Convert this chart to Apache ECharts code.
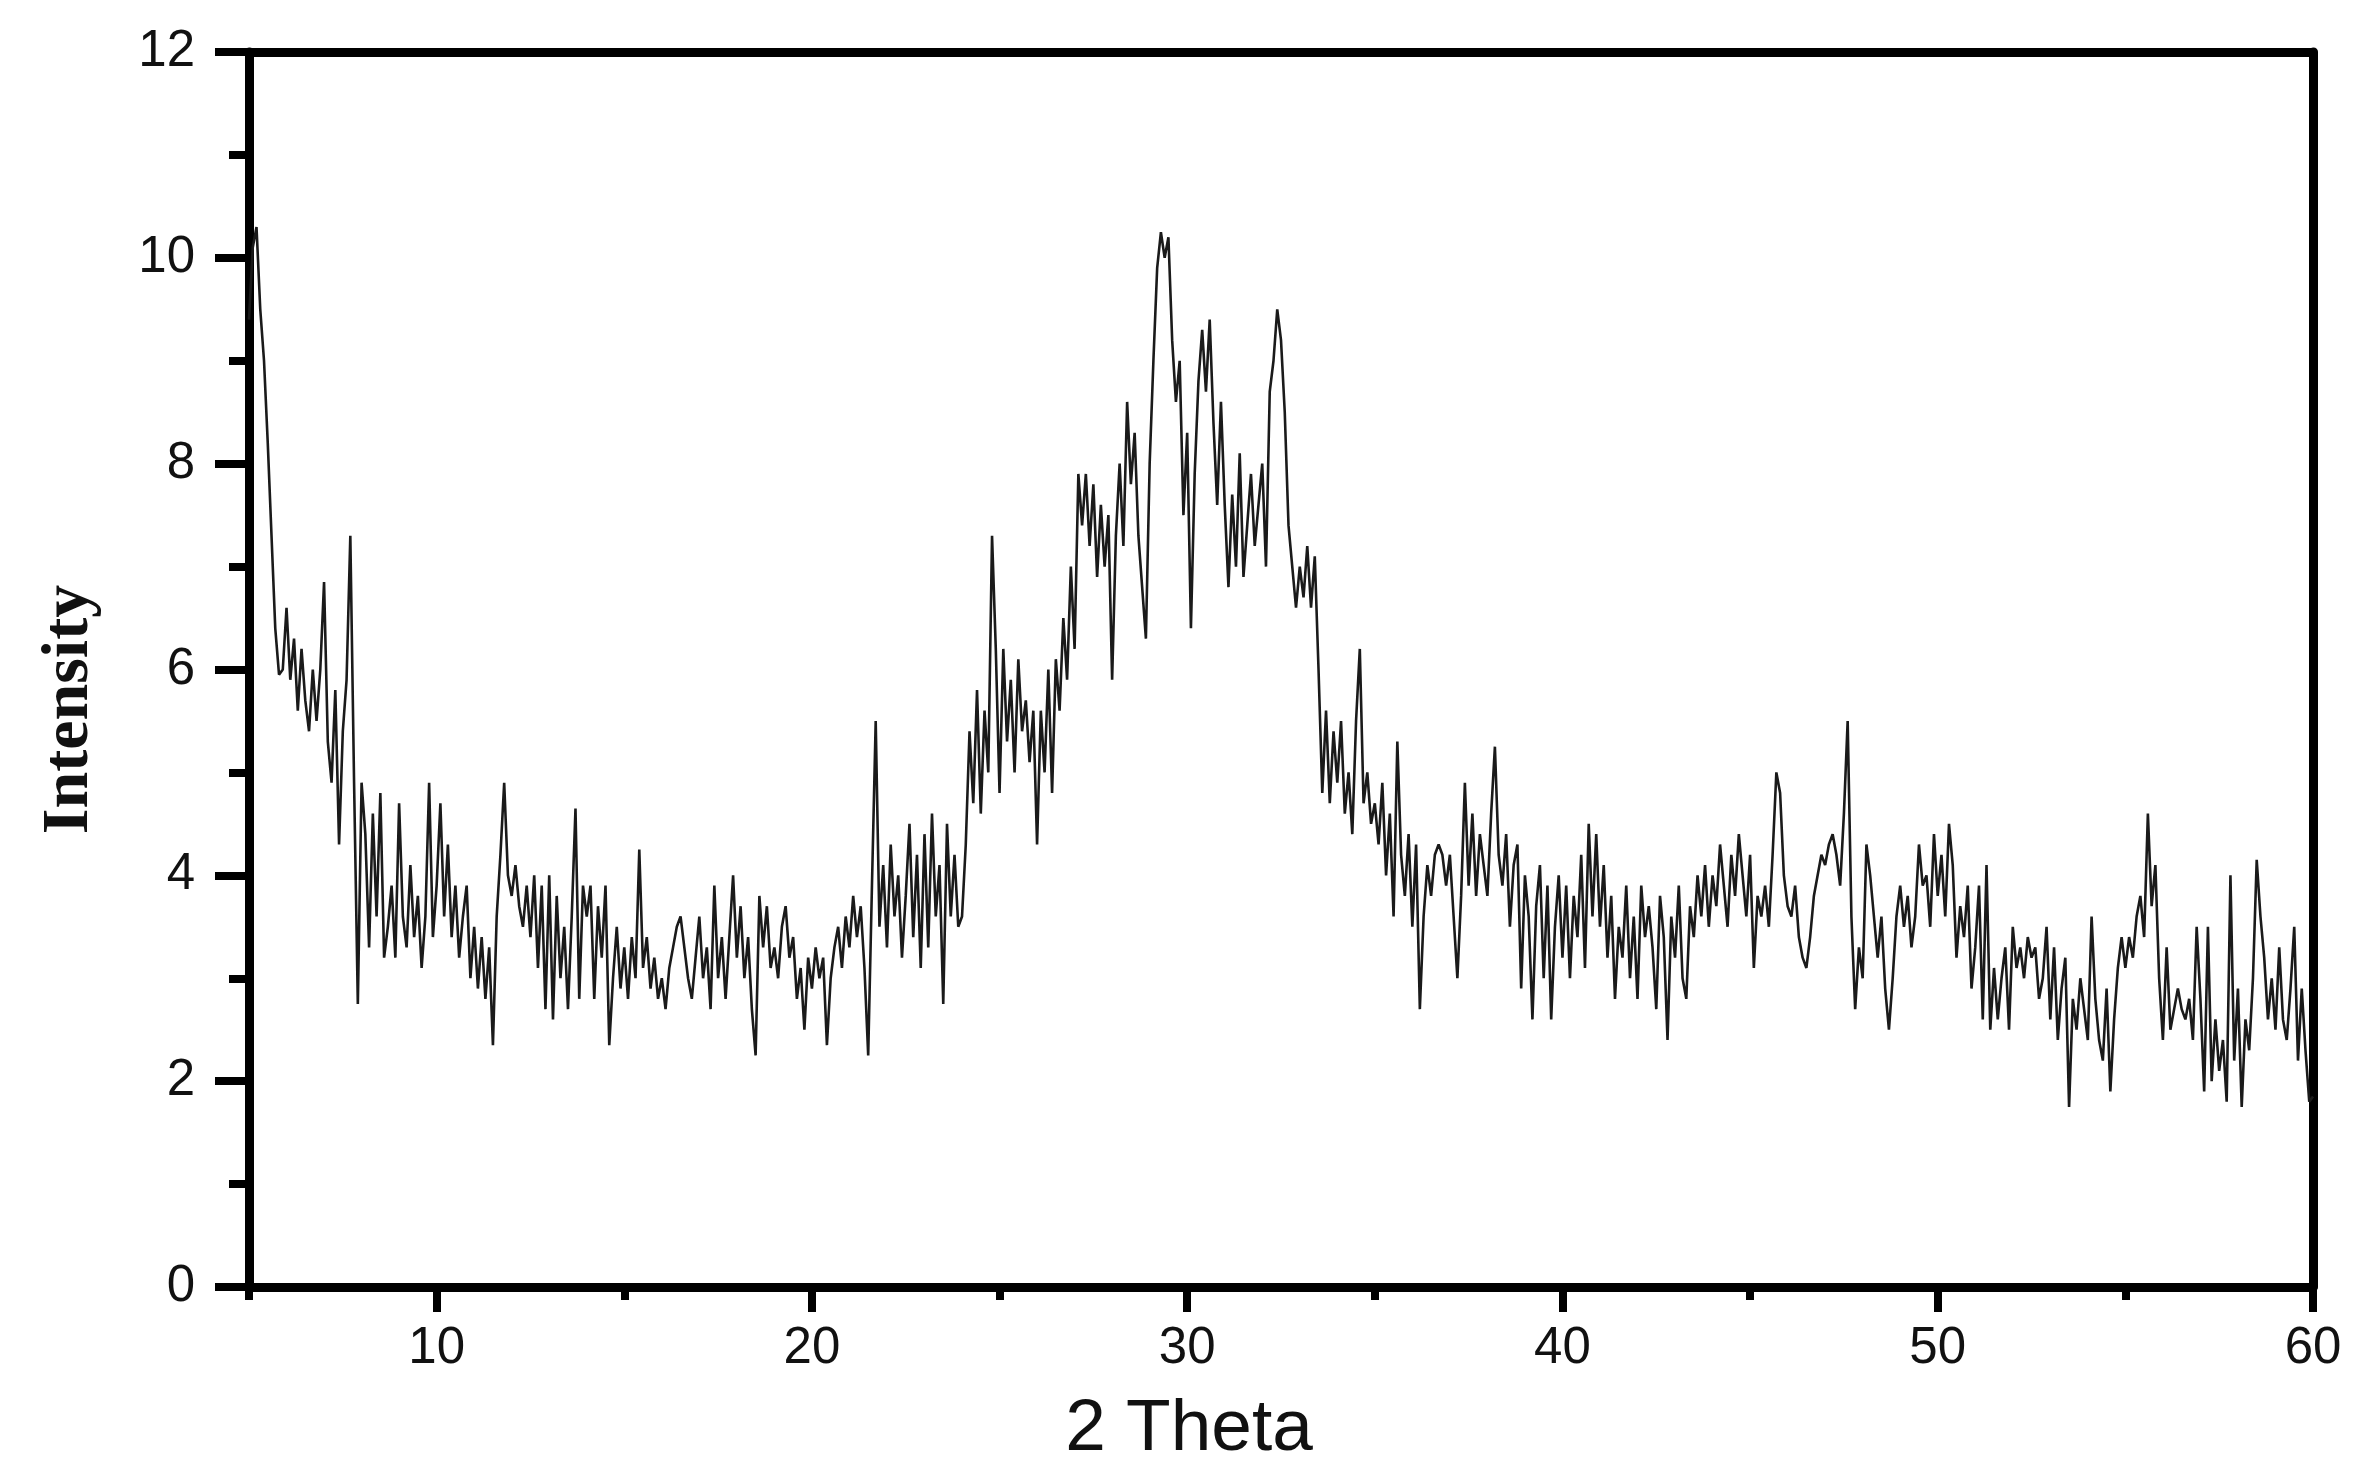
<!doctype html>
<html>
<head>
<meta charset="utf-8">
<title>XRD 2 Theta</title>
<script src="https://cdn.jsdelivr.net/npm/echarts@6.0.0/dist/echarts.min.js"></script>
<style>
  html, body { margin: 0; padding: 0; background: #fff; }
  #chart { width: 2370px; height: 1484px; }
</style>
</head>
<body>
<div id="chart"></div>
<script>
// scan grid: 5 to 60 degrees, step 0.1
var thetaStart = 5;
var thetaStep = 0.1;

// intensity, 10 points per degree
var lowAngle = [ // 5.0 - 19.9
  9.4, 10.1, 10.3, 9.5, 9.0, 8.2, 7.3, 6.4, 5.95, 6.0,
  6.6, 5.9, 6.3, 5.6, 6.2, 5.7, 5.4, 6.0, 5.5, 6.0,
  6.85, 5.3, 4.9, 5.8, 4.3, 5.4, 5.9, 7.3, 4.9, 2.75,
  4.9, 4.4, 3.3, 4.6, 3.6, 4.8, 3.2, 3.5, 3.9, 3.2,
  4.7, 3.6, 3.3, 4.1, 3.4, 3.8, 3.1, 3.6, 4.9, 3.4,
  3.9, 4.7, 3.6, 4.3, 3.4, 3.9, 3.2, 3.6, 3.9, 3.0,
  3.5, 2.9, 3.4, 2.8, 3.3, 2.35, 3.6, 4.2, 4.9, 4.0,
  3.8, 4.1, 3.7, 3.5, 3.9, 3.4, 4.0, 3.1, 3.9, 2.7,
  4.0, 2.6, 3.8, 3.0, 3.5, 2.7, 3.6, 4.65, 2.8, 3.9,
  3.6, 3.9, 2.8, 3.7, 3.2, 3.9, 2.35, 3.0, 3.5, 2.9,
  3.3, 2.8, 3.4, 3.0, 4.25, 3.1, 3.4, 2.9, 3.2, 2.8,
  3.0, 2.7, 3.1, 3.3, 3.5, 3.6, 3.3, 3.0, 2.8, 3.2,
  3.6, 3.0, 3.3, 2.7, 3.9, 3.0, 3.4, 2.8, 3.4, 4.0,
  3.2, 3.7, 3.0, 3.4, 2.7, 2.25, 3.8, 3.3, 3.7, 3.1,
  3.3, 3.0, 3.5, 3.7, 3.2, 3.4, 2.8, 3.1, 2.5, 3.2
];
var hump = [ // 20.0 - 35.9
  2.9, 3.3, 3.0, 3.2, 2.35, 3.0, 3.3, 3.5, 3.1, 3.6,
  3.3, 3.8, 3.4, 3.7, 3.1, 2.25, 3.9, 5.5, 3.5, 4.1,
  3.3, 4.3, 3.6, 4.0, 3.2, 3.8, 4.5, 3.4, 4.2, 3.1,
  4.4, 3.3, 4.6, 3.6, 4.1, 2.75, 4.5, 3.6, 4.2, 3.5,
  3.6, 4.3, 5.4, 4.7, 5.8, 4.6, 5.6, 5.0, 7.3, 6.2,
  4.8, 6.2, 5.3, 5.9, 5.0, 6.1, 5.4, 5.7, 5.1, 5.6,
  4.3, 5.6, 5.0, 6.0, 4.8, 6.1, 5.6, 6.5, 5.9, 7.0,
  6.2, 7.9, 7.4, 7.9, 7.2, 7.8, 6.9, 7.6, 7.0, 7.5,
  5.9, 7.3, 8.0, 7.2, 8.6, 7.8, 8.3, 7.3, 6.8, 6.3,
  8.0, 9.0, 9.9, 10.25, 10.0, 10.2, 9.2, 8.6, 9.0, 7.5,
  8.3, 6.4, 7.9, 8.8, 9.3, 8.7, 9.4, 8.4, 7.6, 8.6,
  7.6, 6.8, 7.7, 7.0, 8.1, 6.9, 7.4, 7.9, 7.2, 7.6,
  8.0, 7.0, 8.7, 9.0, 9.5, 9.2, 8.5, 7.4, 7.0, 6.6,
  7.0, 6.7, 7.2, 6.6, 7.1, 6.0, 4.8, 5.6, 4.7, 5.4,
  4.9, 5.5, 4.6, 5.0, 4.4, 5.5, 6.2, 4.7, 5.0, 4.5,
  4.7, 4.3, 4.9, 4.0, 4.6, 3.6, 5.3, 4.2, 3.8, 4.4
];
var highAngle = [ // 36.0 - 60.0
  3.5, 4.3, 2.7, 3.6, 4.1, 3.8, 4.2, 4.3, 4.2, 3.9,
  4.2, 3.6, 3.0, 3.8, 4.9, 3.9, 4.6, 3.8, 4.4, 4.1,
  3.8, 4.6, 5.25, 4.2, 3.9, 4.4, 3.5, 4.1, 4.3, 2.9,
  4.0, 3.6, 2.6, 3.7, 4.1, 3.0, 3.9, 2.6, 3.5, 4.0,
  3.2, 3.9, 3.0, 3.8, 3.4, 4.2, 3.1, 4.5, 3.6, 4.4,
  3.5, 4.1, 3.2, 3.8, 2.8, 3.5, 3.2, 3.9, 3.0, 3.6,
  2.8, 3.9, 3.4, 3.7, 3.3, 2.7, 3.8, 3.4, 2.4, 3.6,
  3.2, 3.9, 3.0, 2.8, 3.7, 3.4, 4.0, 3.6, 4.1, 3.5,
  4.0, 3.7, 4.3, 3.9, 3.5, 4.2, 3.8, 4.4, 4.0, 3.6,
  4.2, 3.1, 3.8, 3.6, 3.9, 3.5, 4.2, 5.0, 4.8, 4.0,
  3.7, 3.6, 3.9, 3.4, 3.2, 3.1, 3.4, 3.8, 4.0, 4.2,
  4.1, 4.3, 4.4, 4.2, 3.9, 4.6, 5.5, 3.6, 2.7, 3.3,
  3.0, 4.3, 4.0, 3.6, 3.2, 3.6, 2.9, 2.5, 3.0, 3.6,
  3.9, 3.5, 3.8, 3.3, 3.6, 4.3, 3.9, 4.0, 3.5, 4.4,
  3.8, 4.2, 3.6, 4.5, 4.1, 3.2, 3.7, 3.4, 3.9, 2.9,
  3.3, 3.9, 2.6, 4.1, 2.5, 3.1, 2.6, 3.0, 3.3, 2.5,
  3.5, 3.1, 3.3, 3.0, 3.4, 3.2, 3.3, 2.8, 3.0, 3.5,
  2.6, 3.3, 2.4, 2.9, 3.2, 1.75, 2.8, 2.5, 3.0, 2.7,
  2.4, 3.6, 2.8, 2.4, 2.2, 2.9, 1.9, 2.6, 3.1, 3.4,
  3.1, 3.4, 3.2, 3.6, 3.8, 3.4, 4.6, 3.7, 4.1, 3.0,
  2.4, 3.3, 2.5, 2.7, 2.9, 2.7, 2.6, 2.8, 2.4, 3.5,
  2.8, 1.9, 3.5, 2.0, 2.6, 2.1, 2.4, 1.8, 4.0, 2.2,
  2.9, 1.75, 2.6, 2.3, 3.0, 4.15, 3.6, 3.2, 2.6, 3.0,
  2.5, 3.3, 2.6, 2.4, 2.9, 3.5, 2.2, 2.9, 2.3, 1.8,
  1.85
];

// tick labels
var xMajorTicks = [10, 20, 30, 40, 50, 60];
var xMinorTicks = [5, 15, 25, 35, 45, 55];

var intensity = lowAngle.concat(hump, highAngle);
var points = intensity.map(function (v, i) {
  return [+(thetaStart + i * thetaStep).toFixed(1), v];
});

var frame = { show: true, onZero: false, lineStyle: { color: '#000', width: 9 } };
var labelFont = { fontFamily: 'Liberation Sans', fontSize: 51, color: '#111' };

var chart = echarts.init(document.getElementById('chart'));
chart.setOption({
  animation: false,
  backgroundColor: '#fff',
  grid: { left: 249, right: 57, top: 52, bottom: 197 },
  xAxis: [
    {
      type: 'value', min: 5, max: 60, position: 'bottom',
      axisLine: frame,
      axisTick: { show: true, customValues: xMajorTicks, length: 25, lineStyle: { color: '#000', width: 8 } },
      axisLabel: Object.assign({ customValues: xMajorTicks, margin: 36 }, labelFont),
      splitLine: { show: false },
      name: '2 Theta', nameLocation: 'middle', nameGap: 106,
      nameTextStyle: { fontFamily: 'Liberation Sans', fontSize: 73, color: '#111', padding: [0, 184, 0, 0] }
    },
    {
      // short ticks between labels
      type: 'value', min: 5, max: 60, position: 'bottom',
      axisLine: { show: false },
      axisTick: { show: true, customValues: xMinorTicks, length: 13, lineStyle: { color: '#000', width: 8 } },
      axisLabel: { show: false },
      splitLine: { show: false }
    },
    {
      type: 'value', min: 5, max: 60, position: 'top',
      axisLine: frame, axisTick: { show: false }, axisLabel: { show: false }, splitLine: { show: false }
    }
  ],
  yAxis: [
    {
      type: 'value', min: 0, max: 12, interval: 2, position: 'left',
      axisLine: frame,
      axisTick: { show: true, length: 34, lineStyle: { color: '#000', width: 8 } },
      minorTick: { show: true, splitNumber: 2, length: 20, lineStyle: { color: '#000', width: 8 } },
      axisLabel: Object.assign({ margin: 54 }, labelFont),
      splitLine: { show: false },
      name: 'Intensity', nameLocation: 'middle', nameGap: 146,
      nameTextStyle: { fontFamily: 'Liberation Serif', fontWeight: 'bold', fontSize: 66, color: '#111', padding: [0, 80, 0, 0] }
    },
    {
      type: 'value', min: 0, max: 12, position: 'right',
      axisLine: frame, axisTick: { show: false }, axisLabel: { show: false }, splitLine: { show: false }
    }
  ],
  series: [
    {
      type: 'line',
      xAxisIndex: 0,
      yAxisIndex: 0,
      data: points,
      showSymbol: false,
      lineStyle: { color: '#1a1a1a', width: 2.6 }
    }
  ]
});
</script>
</body>
</html>
